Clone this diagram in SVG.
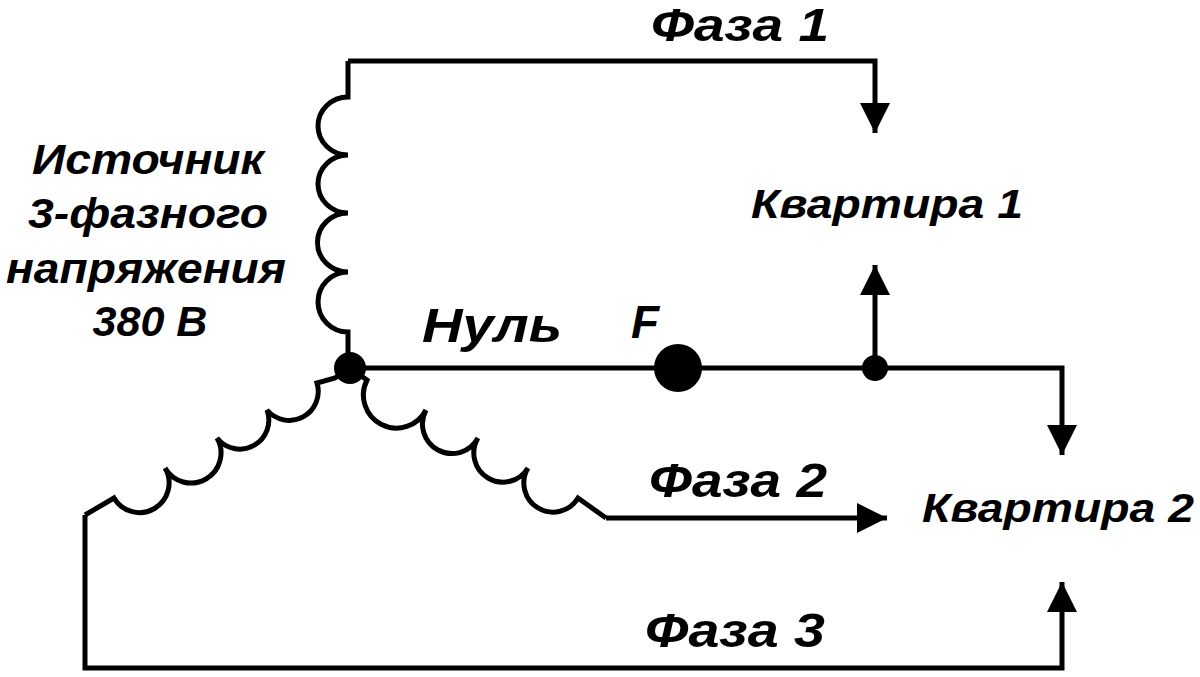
<svg xmlns="http://www.w3.org/2000/svg" width="1200" height="677" viewBox="0 0 1200 677">
<style>
.w{fill:none;stroke:#000;stroke-width:5;stroke-linejoin:miter}
.t{font-family:"Liberation Sans",Arial,sans-serif;font-weight:bold;font-style:italic;fill:#000;text-anchor:middle}
</style>
<defs><marker id="ah" viewBox="0 0 10 10" refX="10" refY="5" markerWidth="6" markerHeight="6" markerUnits="strokeWidth" orient="auto"><path d="M0,0 L10,5 L0,10 Z" fill="#000"/></marker></defs>
<rect width="1200" height="677" fill="#fff"/>
<g id="source">
<path class="w" d="M348,61 V97 A30,29 0 0 0 348,155 A30,29 0 0 0 348,213 A30,29 0 0 0 348,272 A30,30 0 0 0 348,332 V368"/>
<path class="w" d="M350,368 L335,378 L317,383 A29,29 0 0 1 267,410 A29,29 0 0 1 217,438 A29,29 0 0 1 165,468 A29,29 0 0 1 114,498 L85,515"/>
<path class="w" d="M350,368 L367,380 A29,29 0 0 0 426,410 A29,29 0 0 0 478,438 A29,29 0 0 0 528,468 A29,29 0 0 0 578,498 L606,518"/>
<circle cx="350" cy="368" r="16" fill="#000"/>
</g>
<g id="connectors">
<path class="w" d="M348,61 H875 V133" marker-end="url(#ah)"/>
<path class="w" d="M350,368 H1062 V455" marker-end="url(#ah)"/>
<path class="w" d="M875,368 V265" marker-end="url(#ah)"/>
<path class="w" d="M606,518 H887" marker-end="url(#ah)"/>
<path class="w" d="M85,515 V668 H1062 V582" marker-end="url(#ah)"/>
</g>
<g id="nodes">
<circle id="F" cx="678" cy="368" r="24" fill="#000"/>
<circle id="j" cx="875" cy="368" r="13" fill="#000"/>
</g>
<g id="labels">
<text class="t" x="740" y="41" font-size="46" textLength="178" lengthAdjust="spacingAndGlyphs">Фаза 1</text>
<text class="t" x="887" y="218" font-size="40" textLength="272" lengthAdjust="spacingAndGlyphs">Квартира 1</text>
<text class="t" x="148" y="174" font-size="43" textLength="232" lengthAdjust="spacingAndGlyphs">Источник</text>
<text class="t" x="148" y="228" font-size="43" textLength="240" lengthAdjust="spacingAndGlyphs">3-фазного</text>
<text class="t" x="146" y="283" font-size="43" textLength="280" lengthAdjust="spacingAndGlyphs">напряжения</text>
<text class="t" x="150" y="336" font-size="43" textLength="115" lengthAdjust="spacingAndGlyphs">380 В</text>
<text class="t" x="492" y="342" font-size="48" textLength="140" lengthAdjust="spacingAndGlyphs">Нуль</text>
<text class="t" x="645" y="338" font-size="46">F</text>
<text class="t" x="738" y="497" font-size="48" textLength="178" lengthAdjust="spacingAndGlyphs">Фаза 2</text>
<text class="t" x="1058" y="522" font-size="40" textLength="272" lengthAdjust="spacingAndGlyphs">Квартира 2</text>
<text class="t" x="735" y="647" font-size="48" textLength="180" lengthAdjust="spacingAndGlyphs">Фаза 3</text>
</g>
</svg>
